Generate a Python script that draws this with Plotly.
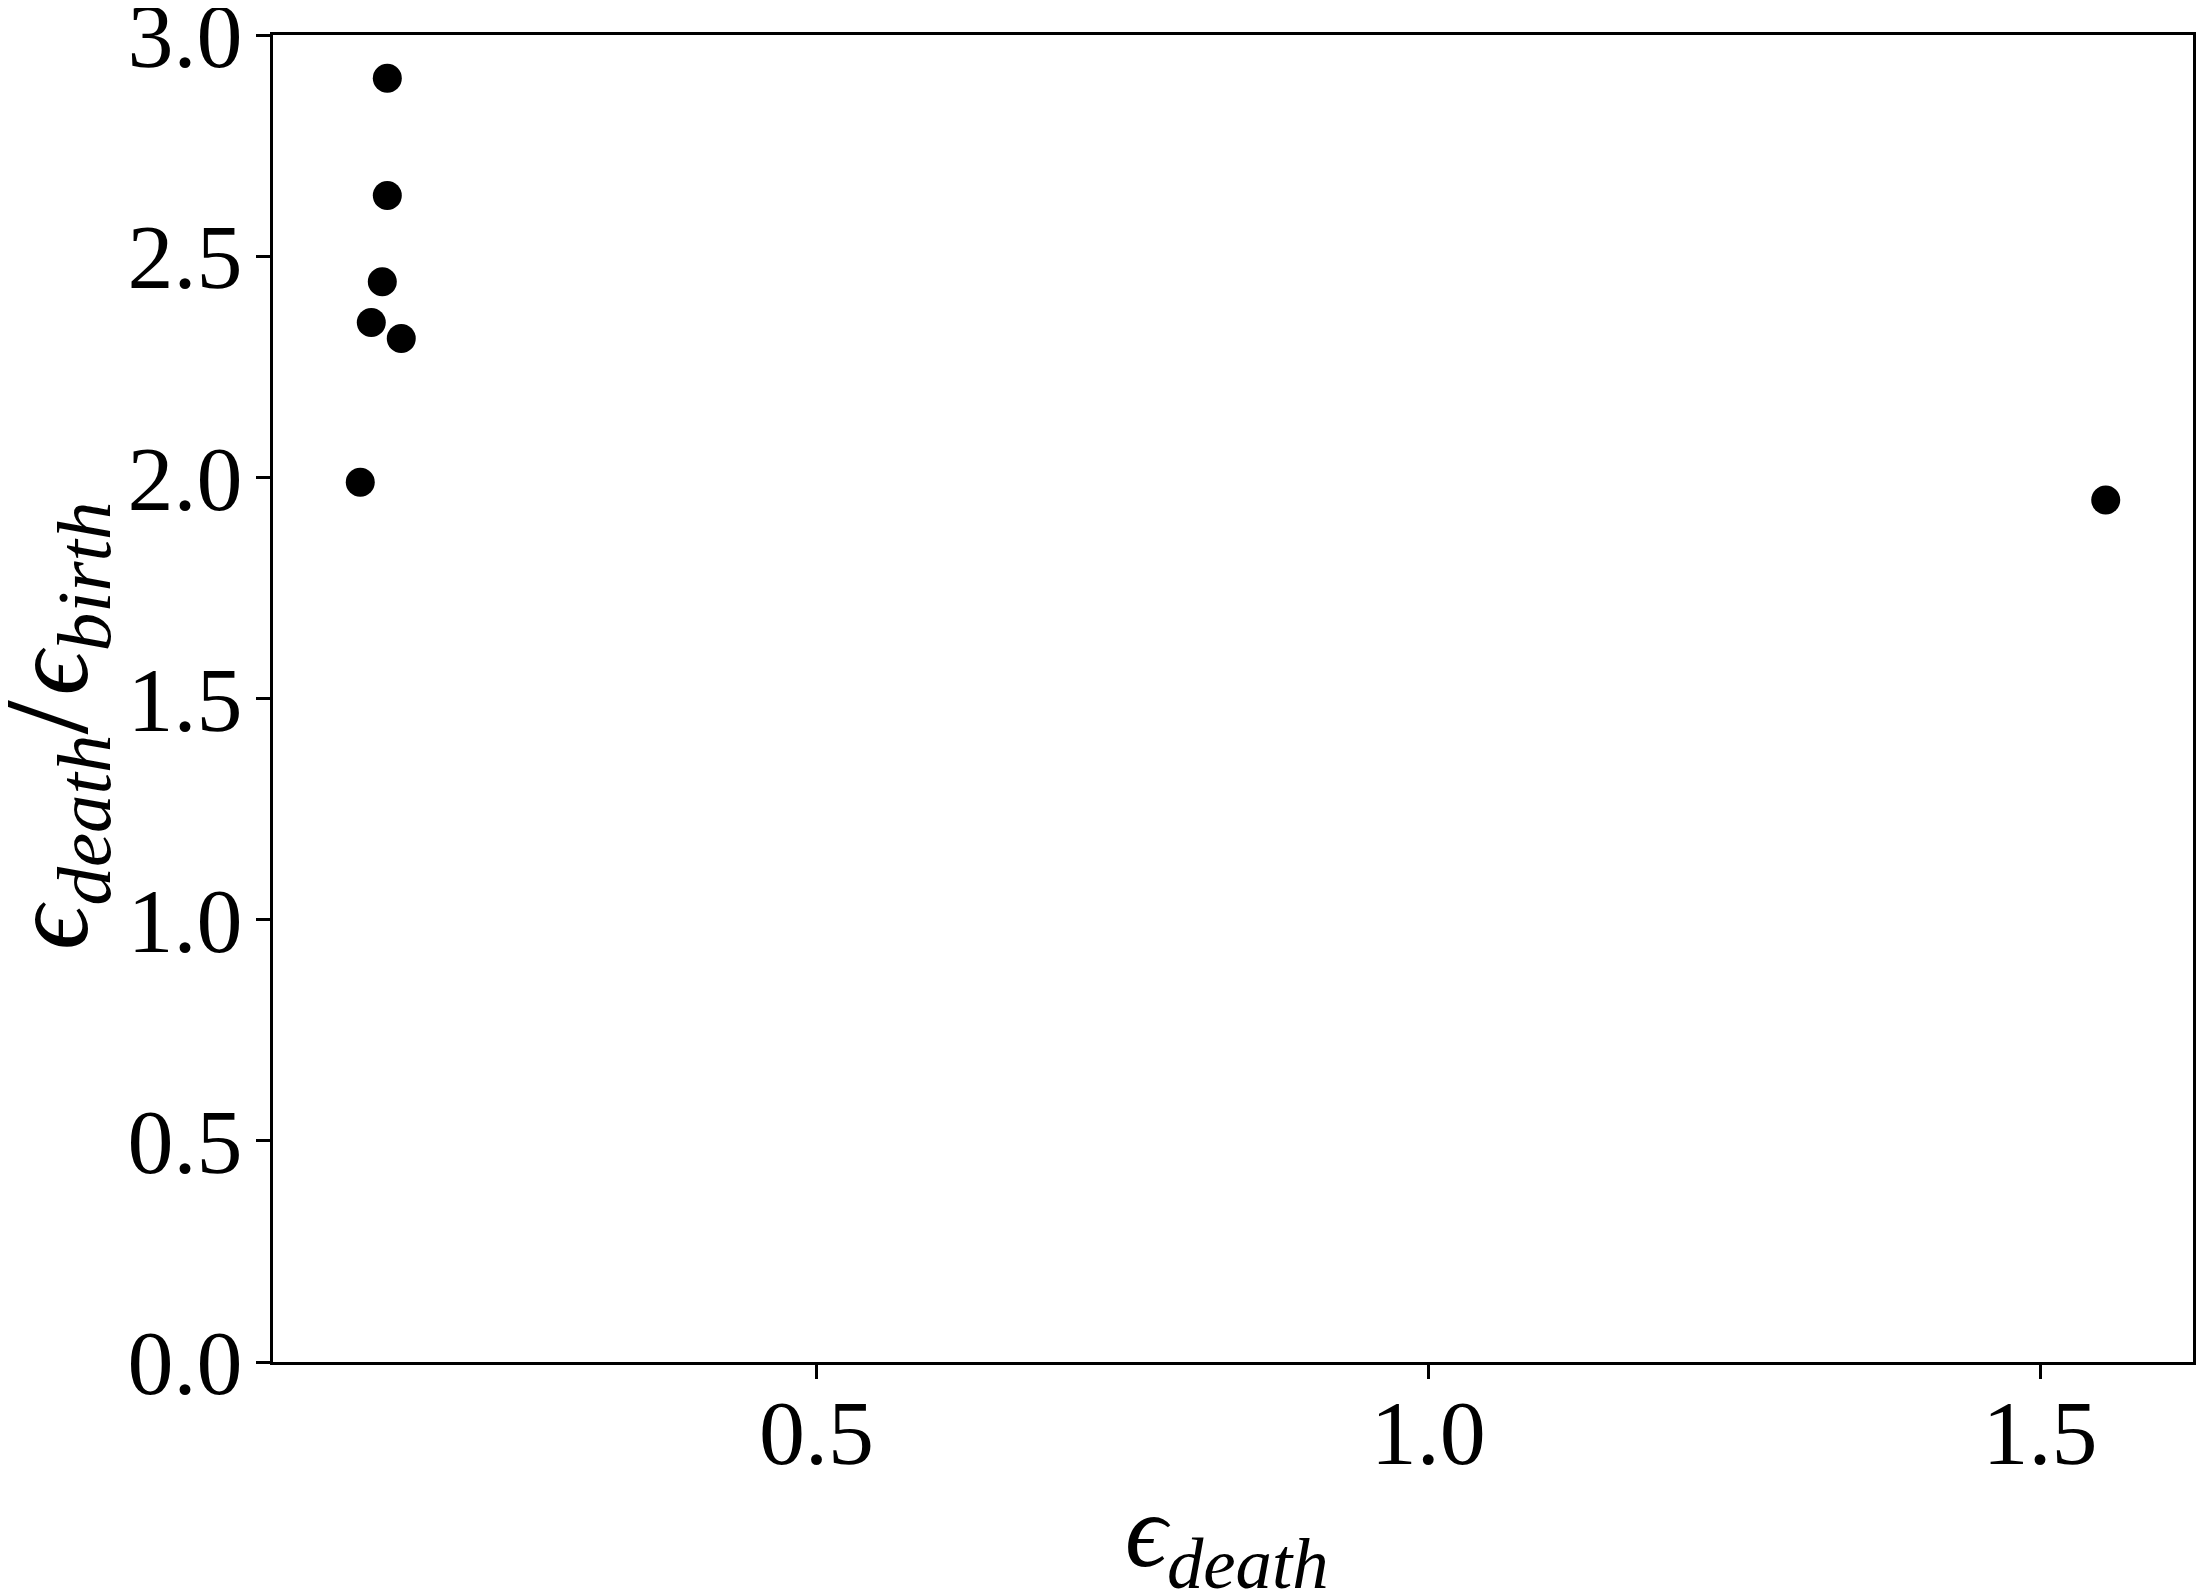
import plotly.graph_objects as go

# epsilon at death vs ratio death/birth
eps_death = [0.1493, 0.1493, 0.1452, 0.1362, 0.1607, 0.1272, 1.5537]
eps_ratio = [2.902, 2.637, 2.442, 2.350, 2.314, 1.989, 1.949]

x_ticks = [0.5, 1.0, 1.5]
y_ticks = [0.0, 0.5, 1.0, 1.5, 2.0, 2.5, 3.0]

x_title = "<i>ϵ</i><sub><i>death</i></sub>"
y_title = ("<i>ϵ</i><sub><i>death</i></sub>"
           "<span style='font-size:140px'>/</span>"
           "<i>ϵ</i><sub><i>birth</i></sub>")

font_family = "Liberation Serif"
tick_size = 92

fig = go.Figure()
fig.add_trace(go.Scatter(
    x=eps_death, y=eps_ratio, mode="markers",
    marker=dict(color="black", size=29, line=dict(width=0)),
))

# matplotlib-like 5% margins on x
x_pad = 0.05 * (max(eps_death) - min(eps_death))

axis_style = dict(
    showgrid=False, zeroline=False, automargin=False,
    showline=True, linecolor="black", linewidth=3, mirror=True,
    ticks="outside", ticklen=14, tickwidth=3, tickcolor="black",
    ticklabeloverflow="allow",
)

# page body has an 8px margin, so the figure is a bit smaller than the window
fig.update_layout(
    width=2196, height=1586,
    margin=dict(l=265, r=11, t=27, b=232),
    plot_bgcolor="white", paper_bgcolor="white",
    showlegend=False,
    font=dict(family=font_family, size=tick_size, color="black"),
    xaxis=dict(
        range=[min(eps_death) - x_pad, max(eps_death) + x_pad],
        tickvals=x_ticks, ticktext=[f"{v:.1f}" for v in x_ticks],
        ticklabelstandoff=-25, **axis_style,
    ),
    yaxis=dict(
        range=[0, 3],
        tickvals=y_ticks, ticktext=[f"{v:.1f}" for v in y_ticks],
        ticklabelstandoff=-5, **axis_style,
    ),
)

fig.add_annotation(text=x_title, xref="paper", yref="paper", x=0.497, y=-0.133,
                   xanchor="center", yanchor="middle", showarrow=False,
                   font=dict(size=104))
fig.add_annotation(text=y_title, xref="paper", yref="paper", x=-0.119, y=0.479,
                   xanchor="center", yanchor="middle", showarrow=False,
                   textangle=-90, font=dict(size=110))

fig.write_html("out.html")
